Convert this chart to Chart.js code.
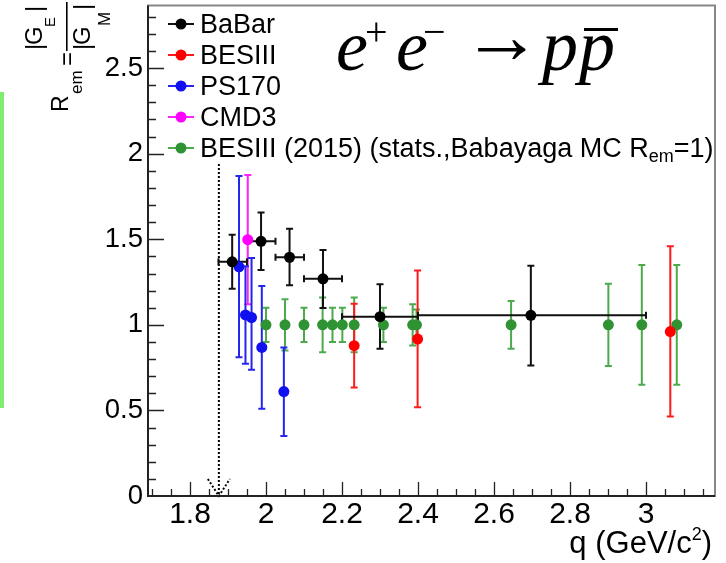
<!DOCTYPE html>
<html>
<head>
<meta charset="utf-8">
<script src="https://cdn.jsdelivr.net/npm/chart.js@4.4.1/dist/chart.umd.min.js"></script>
<style>
  html, body { margin: 0; padding: 0; background: #fff; }
</style>
</head>
<body>
<canvas id="chart" width="726" height="563"></canvas>
<script>
// ---- data ----
const babarQ   = [1.911, 1.987, 2.062, 2.150, 2.300, 2.697];
const babarQLo = [1.875, 1.950, 2.025, 2.100, 2.200, 2.400];
const babarQHi = [1.950, 2.025, 2.100, 2.200, 2.400, 3.000];
const babarR   = [1.368, 1.488, 1.395, 1.269, 1.048, 1.056];
const babarRLo = [1.211, 1.320, 1.231, 1.099, 0.860, 0.762];
const babarRHi = [1.527, 1.657, 1.562, 1.438, 1.237, 1.345];

const besQ   = [2.232, 2.399, 3.064];
const besR   = [0.878, 0.917, 0.961];
const besRLo = [0.634, 0.519, 0.465];
const besRHi = [1.124, 1.318, 1.459];

const ps170Q   = [1.929, 1.946, 1.962, 1.989, 2.047];
const ps170R   = [1.339, 1.058, 1.043, 0.868, 0.610];
const ps170RLo = [0.810, 0.773, 0.738, 0.510, 0.351];
const ps170RHi = [1.870, 1.343, 1.391, 1.227, 0.868];

const cmd3Q   = [1.952];
const cmd3R   = [1.498];
const cmd3RLo = [1.120];
const cmd3RHi = [1.876];

const bes15Q   = [2.000, 2.050, 2.100, 2.149, 2.175, 2.201, 2.232, 2.309, 2.386, 2.396, 2.645, 2.901, 2.989, 3.081];
const bes15R   = [1, 1, 1, 1, 1, 1, 1, 1, 1, 1, 1, 1, 1, 1];
const bes15Err = [0.10, 0.15, 0.10, 0.16, 0.10, 0.10, 0.16, 0.10, 0.12, 0.09, 0.14, 0.24, 0.35, 0.35];

const xTickValues = [1.8, 2.0, 2.2, 2.4, 2.6, 2.8, 3.0];
const xTickLabels = ['1.8', '2', '2.2', '2.4', '2.6', '2.8', '3'];
const yTickValues = [0, 0.5, 1, 1.5, 2, 2.5];
const yTickLabels = ['0', '0.5', '1', '1.5', '2', '2.5'];

const threshold = 1.876;   // 2 m_p

function points(q, r, lo, hi, qlo, qhi) {
  return q.map((v, i) => ({
    x: v, y: r[i], yMin: lo[i], yMax: hi[i],
    xMin: qlo ? qlo[i] : null, xMax: qhi ? qhi[i] : null
  }));
}

const datasets = [
  { label: 'BaBar', data: points(babarQ, babarR, babarRLo, babarRHi, babarQLo, babarQHi),
    backgroundColor: '#000000', barColor: '#111111' },
  { label: 'BESIII', data: points(besQ, besR, besRLo, besRHi),
    backgroundColor: '#ff0000', barColor: '#ff1a1a' },
  { label: 'PS170', data: points(ps170Q, ps170R, ps170RLo, ps170RHi),
    backgroundColor: '#1010f0', barColor: '#2525ee' },
  { label: 'CMD3', data: points(cmd3Q, cmd3R, cmd3RLo, cmd3RHi),
    backgroundColor: '#ff00ff', barColor: '#ff22ff' },
  { label: 'BESIII (2015) (stats.,Babayaga MC R_em=1)',
    data: points(bes15Q, bes15R, bes15R.map((v, i) => v - bes15Err[i]), bes15R.map((v, i) => v + bes15Err[i])),
    backgroundColor: '#2f9334', barColor: '#4caa4c' }
];
datasets.forEach(d => { d.pointRadius = 5.5; d.borderWidth = 0; d.showLine = false; });

const SANS = '"Liberation Sans", Arial, sans-serif';
const SERIF = '"Liberation Serif", "Times New Roman", serif';

// error bars, drawn under the markers
const errorBars = {
  id: 'errorBars',
  beforeDatasetsDraw(chart) {
    const { ctx, scales: { x, y } } = chart;
    ctx.save();
    ctx.lineWidth = 2;
    const cap = 3.5;
    for (let d = chart.data.datasets.length - 1; d >= 0; d--) {
      const ds = chart.data.datasets[d];
      ctx.strokeStyle = ds.barColor;
      ds.data.forEach(p => {
        const px = x.getPixelForValue(p.x), py = y.getPixelForValue(p.y);
        const y1 = y.getPixelForValue(p.yMax), y2 = y.getPixelForValue(p.yMin);
        ctx.beginPath();
        ctx.moveTo(px, y1); ctx.lineTo(px, y2);
        ctx.moveTo(px - cap, y1); ctx.lineTo(px + cap, y1);
        ctx.moveTo(px - cap, y2); ctx.lineTo(px + cap, y2);
        if (p.xMin !== null) {
          const x1 = x.getPixelForValue(p.xMin), x2 = x.getPixelForValue(p.xMax);
          ctx.moveTo(x1, py); ctx.lineTo(x2, py);
          ctx.moveTo(x1, py - cap); ctx.lineTo(x1, py + cap);
          ctx.moveTo(x2, py - cap); ctx.lineTo(x2, py + cap);
        }
        ctx.stroke();
      });
    }
    ctx.restore();
  }
};

// frame, inner ticks, threshold line
const frame = {
  id: 'frame',
  beforeDatasetsDraw(chart) {
    const { ctx, chartArea: a, scales: { x, y } } = chart;
    ctx.save();
    // threshold (dotted) with arrow
    const tx = x.getPixelForValue(threshold);
    ctx.strokeStyle = '#000';
    ctx.lineWidth = 2;
    ctx.setLineDash([2, 2]);
    ctx.beginPath();
    ctx.moveTo(tx, y.getPixelForValue(1.94));
    ctx.lineTo(tx, a.bottom);
    ctx.moveTo(tx - 11, a.bottom - 17); ctx.lineTo(tx, a.bottom);
    ctx.lineTo(tx + 11, a.bottom - 17);
    ctx.stroke();
    ctx.setLineDash([]);
    ctx.restore();
  },
  afterDraw(chart) {
    const { ctx, chartArea: a, scales: { x, y } } = chart;
    ctx.save();
    ctx.strokeStyle = '#888';
    ctx.lineWidth = 2;
    ctx.strokeRect(a.left, a.top, a.right - a.left, a.bottom - a.top);
    ctx.strokeStyle = '#222';
    ctx.beginPath();
    ctx.moveTo(a.left, a.top); ctx.lineTo(a.left, a.bottom); ctx.lineTo(a.right, a.bottom);
    ctx.stroke();
    ctx.lineWidth = 1.3;
    ctx.beginPath();
    for (let v = 1.70; v < x.max; v += 0.05) {
      const px = Math.round(x.getPixelForValue(v)) + 0.5;
      const major = Math.abs(v * 5 - Math.round(v * 5)) < 1e-6;
      ctx.moveTo(px, a.bottom); ctx.lineTo(px, a.bottom - (major ? 14 : 7));
    }
    for (let v = 0.1; v < y.max; v += 0.1) {
      const py = Math.round(y.getPixelForValue(v)) + 0.5;
      const major = Math.abs(v * 2 - Math.round(v * 2)) < 1e-6;
      ctx.moveTo(a.left, py); ctx.lineTo(a.left + (major ? 16 : 8), py);
    }
    ctx.stroke();
    ctx.restore();
  }
};

// texts: legend, formula, axis titles, side strip
const texts = {
  id: 'texts',
  beforeDraw(chart) {
    const ctx = chart.ctx;
    ctx.save();
    ctx.fillStyle = '#fff';
    ctx.fillRect(0, 0, chart.width, chart.height);
    ctx.fillStyle = '#80ec70';
    ctx.fillRect(0, 92, 4, 316);
    ctx.restore();
  },
  afterDraw(chart) {
    const ctx = chart.ctx;
    ctx.save();
    ctx.fillStyle = '#000';

    // legend
    chart.data.datasets.forEach((ds, i) => {
      const cy = 24 + i * 31;
      ctx.strokeStyle = ds.barColor;
      ctx.lineWidth = 2;
      ctx.beginPath(); ctx.moveTo(168, cy); ctx.lineTo(194, cy); ctx.stroke();
      ctx.fillStyle = ds.backgroundColor;
      ctx.beginPath(); ctx.arc(181, cy, 5.5, 0, Math.PI * 2); ctx.fill();
      ctx.fillStyle = '#000';
      ctx.textBaseline = 'alphabetic';
      const base = cy + 9;
      const parts = ds.label.split('_em');
      ctx.font = '27px ' + SANS;
      let xx = 200;
      ctx.fillText(parts[0], xx, base);
      if (parts.length > 1) {
        xx += ctx.measureText(parts[0]).width;
        ctx.font = '18px ' + SANS;
        ctx.fillText('em', xx, base + 5);
        xx += ctx.measureText('em').width;
        ctx.font = '27px ' + SANS;
        ctx.fillText(parts[1], xx, base);
      }
    });

    // e+e- -> p pbar
    ctx.textBaseline = 'alphabetic';
    ctx.font = 'italic 72px ' + SERIF;
    ctx.fillText('e', 336, 70);
    ctx.fillText('e', 396, 70);
    ctx.fillText('p', 542, 70);
    ctx.fillText('p', 579, 70);
    ctx.font = '40px ' + SERIF;
    ctx.fillText('+', 365, 45);
    ctx.fillText('\u2212', 423, 45);
    ctx.font = '80px ' + SERIF;
    ctx.fillText('\u2192', 462, 63);
    ctx.fillRect(584, 28, 34, 3);

    // x title
    ctx.font = '31px ' + SANS;
    ctx.textAlign = 'right';
    ctx.fillText(')', 712, 553);
    let w = ctx.measureText(')').width;
    ctx.font = '18px ' + SANS;
    ctx.fillText('2', 712 - w, 540);
    w += ctx.measureText('2').width;
    ctx.font = '31px ' + SANS;
    ctx.fillText('q (GeV/c', 712 - w, 553);
    ctx.textAlign = 'left';

    // y title, rotated: x' = -py, y' = px
    ctx.rotate(-Math.PI / 2);
    ctx.font = '23px ' + SANS;
    ctx.fillText('R', -112, 68);
    ctx.font = '17px ' + SANS;
    ctx.fillText('em', -94, 82);
    ctx.font = '24px ' + SANS;
    ctx.fillText('=', -66, 75);
    ctx.fillRect(-51, 66, 49, 1.6);
    ctx.fillText('|', -50, 42);
    ctx.fillText('G', -45, 42);
    ctx.font = '15px ' + SANS;
    ctx.fillText('E', -27, 55);
    ctx.font = '24px ' + SANS;
    ctx.fillText('|', -12, 42);
    ctx.fillText('|', -50, 90);
    ctx.fillText('G', -45, 90);
    ctx.font = '17px ' + SANS;
    ctx.fillText('M', -26, 110);
    ctx.font = '24px ' + SANS;
    ctx.fillText('|', -10, 90);
    ctx.restore();
  }
};

new Chart(document.getElementById('chart'), {
  type: 'scatter',
  data: { datasets },
  options: {
    responsive: false,
    animation: false,
    layout: { padding: { left: 0, right: 11, top: 3, bottom: 0 } },
    plugins: { legend: { display: false }, tooltip: { enabled: false } },
    scales: {
      x: {
        type: 'linear', min: 1.6895, max: 3.1816,
        grid: { display: false, drawTicks: false }, border: { display: false },
        afterBuildTicks: s => { s.ticks = xTickValues.map(v => ({ value: v })); },
        afterFit: s => { s.height = 67; s.paddingLeft = 0; s.paddingRight = 0; },
        ticks: { autoSkip: false, maxRotation: 0, padding: 1, color: '#000',
                 font: { family: SANS, size: 30 }, callback: (v, i) => xTickLabels[i] }
      },
      y: {
        type: 'linear', min: 0, max: 2.866,
        grid: { display: false, drawTicks: false }, border: { display: false },
        afterBuildTicks: s => { s.ticks = yTickValues.map(v => ({ value: v })); },
        afterFit: s => { s.width = 148; s.paddingTop = 0; s.paddingBottom = 0; },
        ticks: { autoSkip: false, padding: 5, color: '#000',
                 font: { family: SANS, size: 27.5 }, callback: (v, i) => yTickLabels[i] }
      }
    }
  },
  plugins: [texts, frame, errorBars]
});
</script>
</body>
</html>
